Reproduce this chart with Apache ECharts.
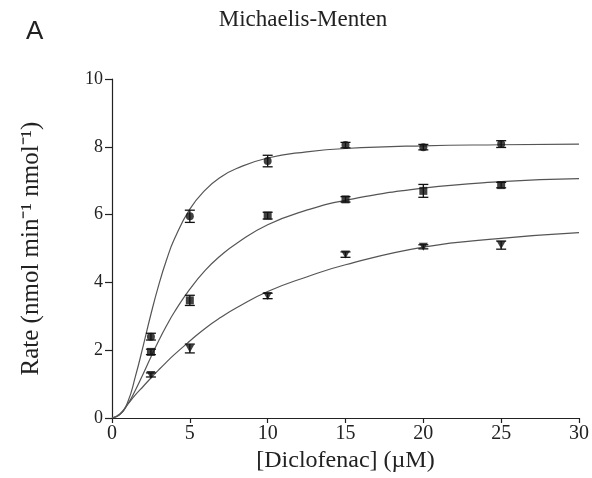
<!DOCTYPE html>
<html>
<head>
<meta charset="utf-8">
<script src="https://cdn.jsdelivr.net/npm/echarts@6/dist/echarts.min.js"></script>
<style>
  html, body { margin: 0; padding: 0; background: #fff; }
  #chart { width: 592px; height: 478px; }
</style>
</head>
<body>
<div id="chart"></div>
<script>
// Measured substrate concentrations (µM)
const concentrations = [2.5, 5, 10, 15, 20, 25];

// Mean rates and SD for the three data sets
const circleRate = [2.4, 5.95, 7.58, 8.05, 7.99, 8.08];
const circleErr  = [0.1, 0.18, 0.17, 0.08, 0.08, 0.1];
const squareRate = [1.95, 3.47, 5.97, 6.45, 6.7, 6.87];
const squareErr  = [0.08, 0.15, 0.1, 0.08, 0.19, 0.08];
const triRate    = [1.27, 2.05, 3.6, 4.82, 5.05, 5.1];
const triErr     = [0.06, 0.13, 0.08, 0.08, 0.06, 0.12];

// Fitted curves sampled along the concentration axis
const fitConc   = [0, 0.5, 1, 1.5, 2, 2.5, 3, 3.5, 4, 5, 6, 7, 8, 10, 12.5, 15, 20, 25, 30];
const circleFit = [0, 0.1, 0.46, 1.22, 2.12, 3.06, 3.92, 4.66, 5.27, 6.16, 6.73, 7.11, 7.36, 7.67, 7.85, 7.95, 8.03, 8.06, 8.08];
const squareFit = [0, 0.1, 0.4, 0.82, 1.3, 1.8, 2.28, 2.72, 3.12, 3.8, 4.36, 4.8, 5.15, 5.7, 6.13, 6.42, 6.78, 6.97, 7.06];
const triFit    = [0, 0.12, 0.4, 0.68, 0.93, 1.18, 1.42, 1.65, 1.87, 2.27, 2.65, 2.97, 3.25, 3.73, 4.16, 4.52, 5.04, 5.3, 5.47];

// Axis ticks
const xTicks = { min: 0, max: 30, interval: 5 };
const yTicks = { min: 0, max: 10, interval: 2 };

const SERIF = '"Liberation Serif", "Times New Roman", serif';

function pairs(xs, ys) { return xs.map((x, i) => [x, ys[i]]); }
function errData(xs, ys, es) { return xs.map((x, i) => [x, ys[i] - es[i], ys[i] + es[i]]); }

function fitLine(data) {
  return {
    type: 'line', data: data, smooth: true, showSymbol: false, silent: true,
    lineStyle: { color: '#555', width: 1.2 }, z: 2
  };
}
function points(data, symbol, size) {
  return {
    type: 'scatter', data: data, symbol: symbol, symbolSize: size,
    itemStyle: { color: '#111' }, z: 4
  };
}
function errorBars(data) {
  return {
    type: 'custom', data: data, z: 3,
    renderItem: function (params, api) {
      const x = api.value(0);
      const lo = api.coord([x, api.value(1)]);
      const hi = api.coord([x, api.value(2)]);
      const w = 5;
      const style = { stroke: '#111', lineWidth: 1.3 };
      return {
        type: 'group',
        children: [
          { type: 'line', shape: { x1: lo[0], y1: lo[1], x2: hi[0], y2: hi[1] }, style: style },
          { type: 'line', shape: { x1: lo[0] - w, y1: lo[1], x2: lo[0] + w, y2: lo[1] }, style: style },
          { type: 'line', shape: { x1: hi[0] - w, y1: hi[1], x2: hi[0] + w, y2: hi[1] }, style: style }
        ]
      };
    }
  };
}

const chart = echarts.init(document.getElementById('chart'), null, { renderer: 'canvas' });
chart.setOption({
  animation: false,
  backgroundColor: '#fff',
  grid: { left: 112, right: 11, top: 79, bottom: 60 },
  graphic: [
    { type: 'text', left: 26, top: 19,
      style: { text: 'A', font: '26px "Liberation Sans", Arial, sans-serif', fill: '#222' } },
    { type: 'text', x: 303, y: 20,
      style: { text: 'Michaelis-Menten', font: '23px ' + SERIF, fill: '#222', align: 'center', verticalAlign: 'middle' } }
  ],
  xAxis: {
    type: 'value', min: xTicks.min, max: xTicks.max, interval: xTicks.interval,
    name: '[Diclofenac] (\u00B5M)', nameLocation: 'middle', nameGap: 31,
    nameTextStyle: { fontFamily: SERIF, fontSize: 24, color: '#222' },
    axisLine: { lineStyle: { color: '#222', width: 1.2 } },
    axisTick: { show: true, length: 5, lineStyle: { color: '#222', width: 1.2 } },
    axisLabel: { fontFamily: SERIF, fontSize: 20, color: '#222', margin: 6 },
    splitLine: { show: false }
  },
  yAxis: {
    type: 'value', min: yTicks.min, max: yTicks.max, interval: yTicks.interval,
    name: 'Rate (nmol min\u207B\u00B9 nmol\u207B\u00B9)', nameLocation: 'middle', nameGap: 68, nameRotate: 90,
    nameTextStyle: { fontFamily: SERIF, fontSize: 25, color: '#222' },
    axisLine: { show: true, lineStyle: { color: '#222', width: 1.2 } },
    axisTick: { show: true, length: 7, lineStyle: { color: '#222', width: 1.2 } },
    axisLabel: { fontFamily: SERIF, fontSize: 18, color: '#222', margin: 9 },
    splitLine: { show: false }
  },
  series: [
    fitLine(pairs(fitConc, circleFit)),
    fitLine(pairs(fitConc, squareFit)),
    fitLine(pairs(fitConc, triFit)),
    errorBars(errData(concentrations, circleRate, circleErr)),
    errorBars(errData(concentrations, squareRate, squareErr)),
    errorBars(errData(concentrations, triRate, triErr)),
    points(pairs(concentrations, circleRate), 'circle', 8),
    points(pairs(concentrations, squareRate), 'rect', 8),
    points(pairs(concentrations, triRate), 'path://M0,0 L10,0 L5,9 Z', [9, 8])
  ]
});
</script>
</body>
</html>
